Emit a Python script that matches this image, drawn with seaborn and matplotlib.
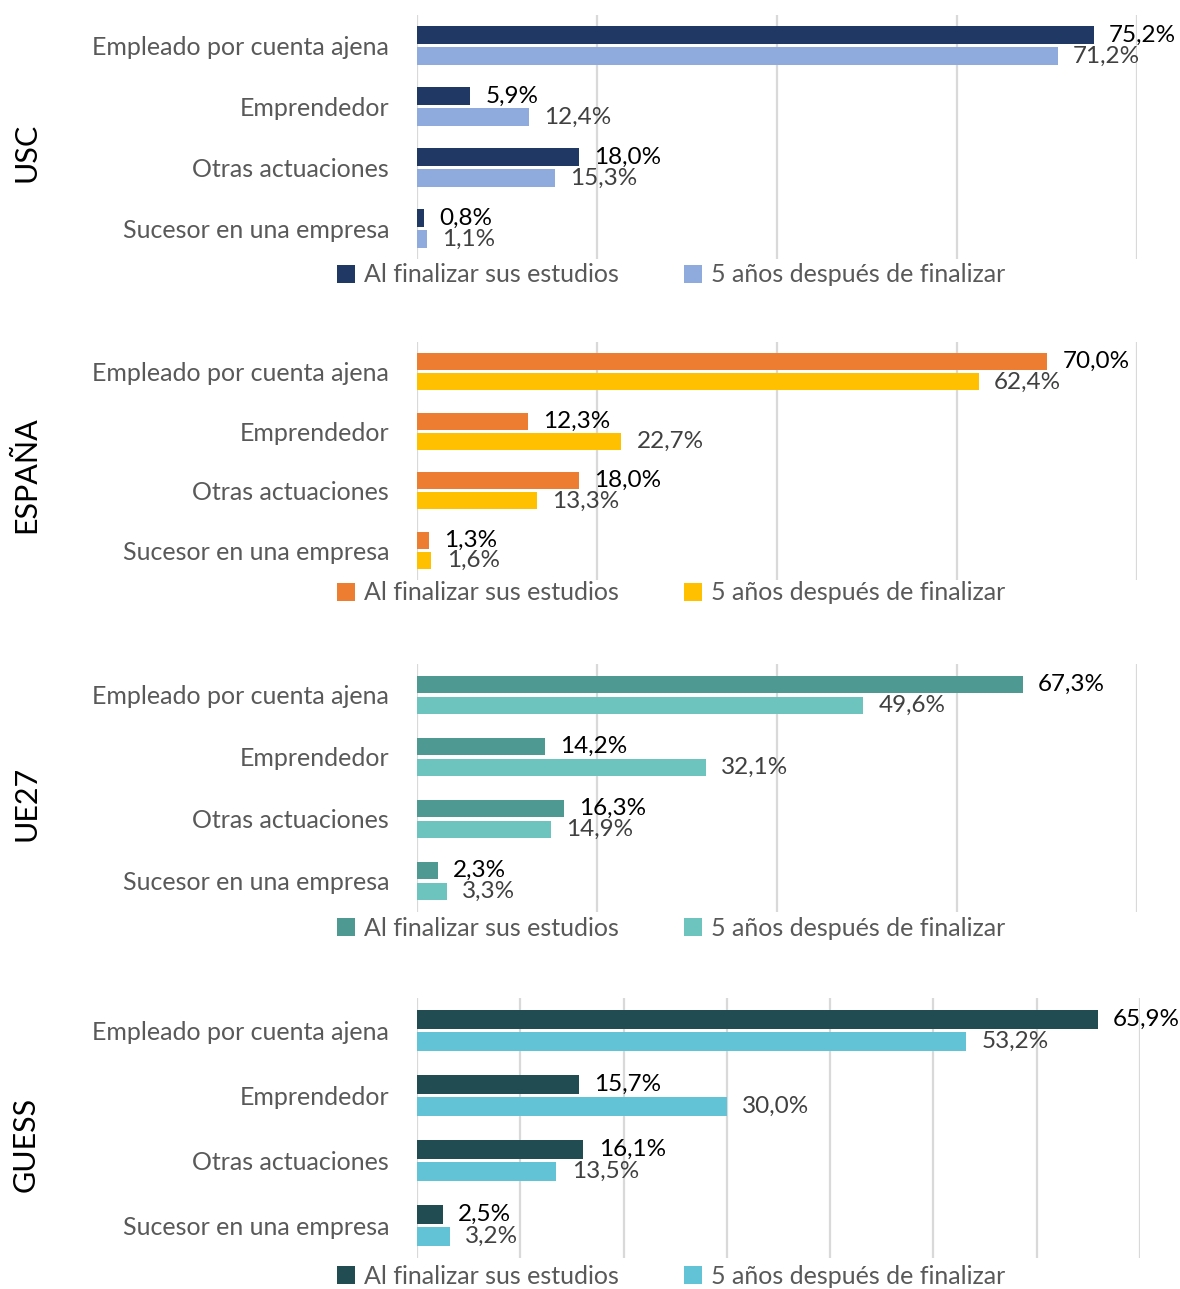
import matplotlib
matplotlib.use("Agg")
import matplotlib.pyplot as plt
import seaborn as sns
import pandas as pd

# Categorías y series
categorias = ["Empleado por cuenta ajena", "Emprendedor",
              "Otras actuaciones", "Sucesor en una empresa"]
series = ["Al finalizar sus estudios", "5 años después de finalizar"]
regiones = ["USC", "ESPAÑA", "UE27", "GUESS"]

# Valores (%) por región: al finalizar / 5 años después
usc_final = [75.2, 5.9, 18.0, 0.8]
usc_5anos = [71.2, 12.4, 15.3, 1.1]
espana_final = [70.0, 12.3, 18.0, 1.3]
espana_5anos = [62.4, 22.7, 13.3, 1.6]
ue27_final = [67.3, 14.2, 16.3, 2.3]
ue27_5anos = [49.6, 32.1, 14.9, 3.3]
guess_final = [65.9, 15.7, 16.1, 2.5]
guess_5anos = [53.2, 30.0, 13.5, 3.2]

# Escala del eje x (máximo y paso de la rejilla)
x_max = [80, 80, 80, 70]
x_paso = [20, 20, 20, 10]

colores = [("#203864", "#8FAADC"), ("#ED7D31", "#FFC000"),
           ("#4E9A92", "#6DC3BD"), ("#214D52", "#63C3D6")]

datos = [(usc_final, usc_5anos), (espana_final, espana_5anos),
         (ue27_final, ue27_5anos), (guess_final, guess_5anos)]

sns.set_style("white")
plt.rcParams["font.family"] = ["Lato", "DejaVu Sans"]

W, H = 1180, 1289
fig = plt.figure(figsize=(W / 100, H / 100), dpi=100)

# posiciones en píxeles: (arriba, abajo, derecha, centro leyenda, centro título)
paneles = [(15, 259, 1137, 275, 152),
           (342, 580, 1137, 593, 475),
           (664, 912, 1137, 928, 803),
           (998, 1258, 1140, 1276, 1144)]

FS = 18

for i, region in enumerate(regiones):
    top, bottom, right, ley_y, tit_y = paneles[i]
    ax = fig.add_axes([417 / W, 1 - bottom / H, (right - 417) / W, (bottom - top) / H])
    final, cinco = datos[i]
    df = pd.DataFrame({
        "categoria": categorias * 2,
        "valor": final + cinco,
        "serie": [series[0]] * 4 + [series[1]] * 4,
    })
    sns.barplot(data=df, y="categoria", x="valor", hue="serie", orient="h",
                palette=list(colores[i]), saturation=1, width=0.68, gap=0.15,
                linewidth=0, ax=ax)
    ax.set_xlim(0, x_max[i])
    ax.set_xticks(range(0, x_max[i] + 1, x_paso[i]))
    ax.set_xticklabels([])
    ax.grid(axis="x", color="#D9D9D9", linewidth=1.6)
    ax.set_axisbelow(True)
    for s in ax.spines.values():
        s.set_visible(False)
    ax.tick_params(axis="both", length=0)
    ax.tick_params(axis="y", pad=20, labelsize=FS, labelcolor="#595959")
    ax.set_xlabel("")
    ax.set_ylabel("")

    for cont, vals, col in zip(ax.containers, (final, cinco), ("#000000", "#404040")):
        ax.bar_label(cont, labels=[f"{v:.1f}%".replace(".", ",") for v in vals],
                     padding=11, fontsize=17.5, color=col)

    handles, labels = ax.get_legend_handles_labels()
    if ax.get_legend() is not None:
        ax.get_legend().remove()
    fig.legend(handles, labels, loc="center", bbox_to_anchor=(671 / W, 1 - ley_y / H),
               ncol=2, frameon=False, fontsize=FS, labelcolor="#595959",
               handlelength=0.72, handleheight=0.72, handletextpad=0.35,
               columnspacing=2.6, borderpad=0, borderaxespad=0)

    fig.text(26 / W, 1 - tit_y / H, region, rotation=90, ha="center", va="center",
             fontsize=22, color="#000000")

fig.savefig("out.png", dpi=100)
